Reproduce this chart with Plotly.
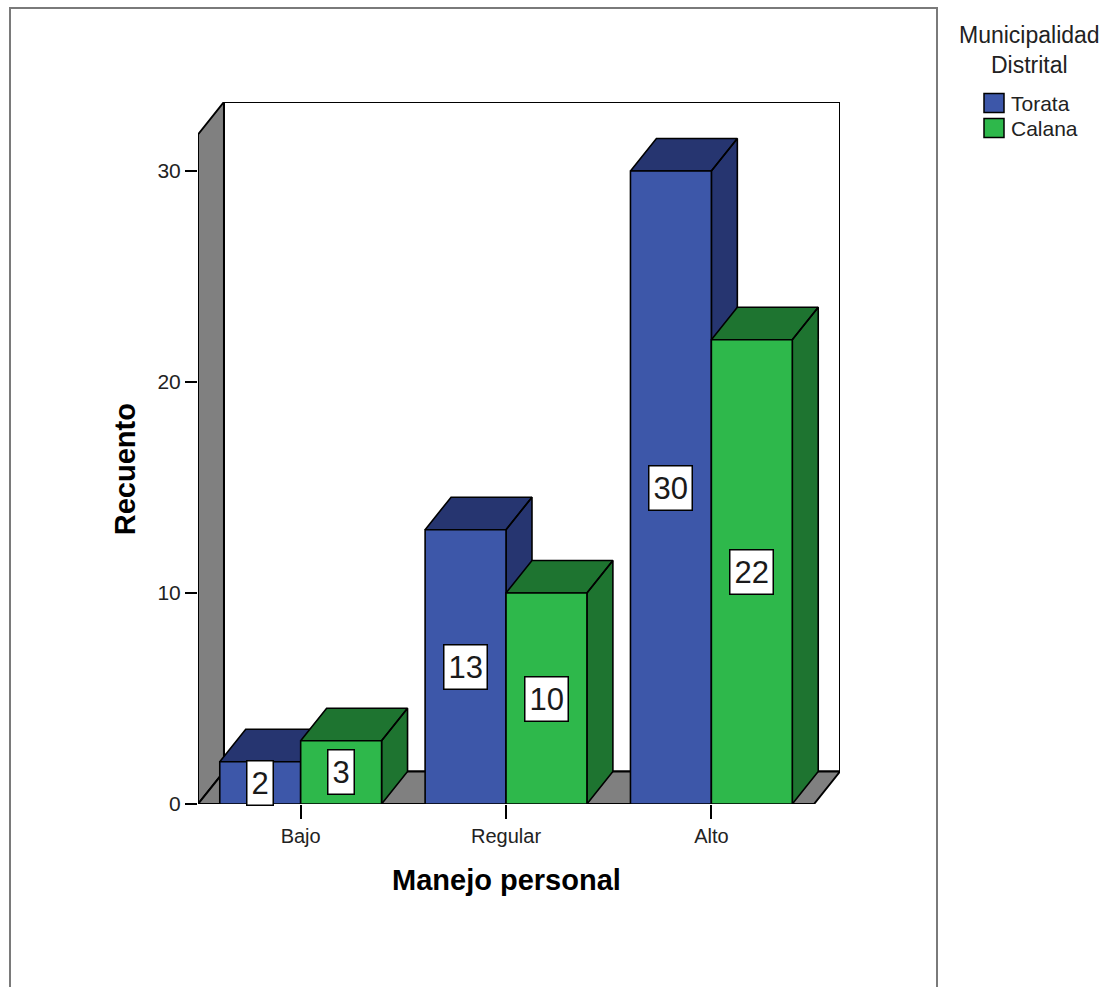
import plotly.graph_objects as go

# ---- data -------------------------------------------------------------
categorias = ["Bajo", "Regular", "Alto"]
torata = [2, 13, 30]
calana = [3, 10, 22]
series_nombres = ["Torata", "Calana"]
y_ticks = [0, 10, 20, 30]

# ---- figure geometry --------------------------------------------------
W, H = 1118, 987
ML, MR, MT, MB = 198, 278, 102, 183
PW, PH = W - ML - MR, H - MT - MB

BAR_W = 0.394      # width of one bar (category units)
DX = 0.1264        # depth offset of the 3D box along x
DY = 1.54          # depth offset of the 3D box along y
WALL = 31.73       # height of the side wall at the front edge
X0, X1 = -0.5, 2.5

FONT = "Liberation Sans, Arial, Helvetica, sans-serif"
GRAY = "#808080"
EDGE = dict(color="black", width=1.6)

estilos = {
    "Torata": dict(front="#3d57a9", dark="#263570"),
    "Calana": dict(front="#2eb84b", dark="#1e7430"),
}


def px_x(p):
    return (p - ML) / PW


def px_y(p):
    return (H - MB - p) / PH


def caras(x0, v):
    """front face and (top + side) faces of a 3D bar starting at x0 with height v"""
    x1 = x0 + BAR_W
    front_x = [x0, x1, x1, x0, x0]
    front_y = [0, 0, v, v, 0]
    dark_x = [x0, x1, x1 + DX, x0 + DX, x0, None,
              x1, x1 + DX, x1 + DX, x1, x1]
    dark_y = [v, v, v + DY, v + DY, v, None,
              0, DY, v + DY, v, 0]
    return (front_x, front_y), (dark_x, dark_y)


fig = go.Figure()

# bars, drawn left to right so nearer faces overlap correctly
annotations = []
for i, cat in enumerate(categorias):
    for nombre, valores, offset in (("Torata", torata, -BAR_W), ("Calana", calana, 0.0)):
        v = valores[i]
        x0 = i + offset
        (fx, fy), (dx_, dy_) = caras(x0, v)
        est = estilos[nombre]
        fig.add_trace(go.Scatter(
            x=dx_, y=dy_, mode="lines", fill="toself", fillcolor=est["dark"],
            line=EDGE, hoverinfo="skip", showlegend=False))
        fig.add_trace(go.Scatter(
            x=fx, y=fy, mode="lines", fill="toself", fillcolor=est["front"],
            line=EDGE, hoverinfo="skip", showlegend=False, name=nombre))
        annotations.append(dict(
            x=x0 + BAR_W / 2, y=v / 2, xref="x", yref="y", text=str(v),
            showarrow=False, font=dict(family=FONT, size=31, color="#1a1a1a"),
            bgcolor="white", bordercolor="black", borderwidth=1.5, borderpad=4,
            xanchor="center", yanchor="middle"))

# chart walls
shapes = [
    # back wall
    dict(type="rect", xref="x", yref="y", x0=X0 + DX, x1=X1 + DX, y0=DY, y1=WALL + DY,
         fillcolor="white", line=dict(color="black", width=2), layer="below"),
    # left wall
    dict(type="path", xref="x", yref="y",
         path=f"M {X0},0 L {X0},{WALL} L {X0 + DX},{WALL + DY} L {X0 + DX},{DY} Z",
         fillcolor=GRAY, line=dict(color="black", width=2), layer="below"),
    # floor
    dict(type="path", xref="x", yref="y",
         path=f"M {X0},0 L {X1},0 L {X1 + DX},{DY} L {X0 + DX},{DY} Z",
         fillcolor=GRAY, line=dict(color="black", width=2), layer="below"),
    # outer frame
    dict(type="rect", xref="paper", yref="paper",
         x0=px_x(10), x1=px_x(937), y0=px_y(1010), y1=px_y(8),
         line=dict(color="#7a7a7a", width=2), fillcolor="rgba(0,0,0,0)", layer="below"),
]

# legend
leg_y = [103, 128]
for nombre, yc in zip(series_nombres, leg_y):
    shapes.append(dict(
        type="rect", xref="paper", yref="paper",
        x0=px_x(984), x1=px_x(1004), y0=px_y(yc + 9.5), y1=px_y(yc - 9.5),
        fillcolor=estilos[nombre]["front"], line=dict(color="black", width=1.5)))
    annotations.append(dict(
        x=px_x(1009), y=px_y(yc), xref="paper", yref="paper", text=nombre,
        showarrow=False, xanchor="left", yanchor="middle",
        font=dict(family=FONT, size=21, color="#222222")))

annotations.append(dict(
    x=px_x(1029), y=px_y(50), xref="paper", yref="paper",
    text="Municipalidad<br>Distrital", align="center",
    showarrow=False, xanchor="center", yanchor="middle",
    font=dict(family=FONT, size=23, color="#222222")))

# axis titles
annotations.append(dict(
    x=px_x(125), y=WALL / 2, xref="paper", yref="y", text="<b>Recuento</b>",
    textangle=-90, showarrow=False, xanchor="center", yanchor="middle",
    font=dict(family=FONT, size=29, color="black")))
annotations.append(dict(
    x=(X0 + X1) / 2, y=px_y(880), xref="x", yref="paper", text="<b>Manejo personal</b>",
    showarrow=False, xanchor="center", yanchor="middle",
    font=dict(family=FONT, size=29, color="black")))

fig.update_layout(
    width=W, height=H,
    margin=dict(l=ML, r=MR, t=MT, b=MB, pad=0),
    paper_bgcolor="white", plot_bgcolor="white",
    showlegend=False,
    shapes=shapes, annotations=annotations,
    xaxis=dict(range=[X0, X1 + DX], tickvals=list(range(len(categorias))),
               ticktext=categorias, ticks="outside", ticklen=14, tickwidth=1.6,
               tickcolor="black", showgrid=False, zeroline=False, showline=False,
               tickfont=dict(family=FONT, size=20, color="#222222"), fixedrange=True),
    yaxis=dict(range=[0, WALL + DY], tickvals=y_ticks, ticks="outside", ticklen=12,
               tickwidth=1.6, tickcolor="black", showgrid=False, zeroline=False,
               showline=False, tickfont=dict(family=FONT, size=21, color="#222222"),
               fixedrange=True),
)

fig.write_html("out.html")
